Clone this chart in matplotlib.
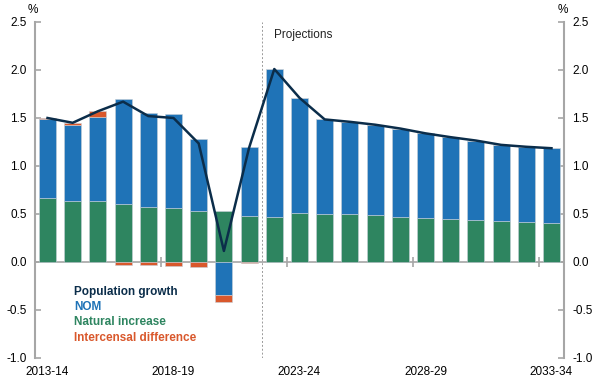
import numpy as np
import matplotlib
matplotlib.use("Agg")
import matplotlib.pyplot as plt

plt.rcParams['font.family'] = ['Liberation Sans', 'DejaVu Sans']

years = ["2013-14", "2014-15", "2015-16", "2016-17", "2017-18", "2018-19",
         "2019-20", "2020-21", "2021-22", "2022-23", "2023-24", "2024-25",
         "2025-26", "2026-27", "2027-28", "2028-29", "2029-30", "2030-31",
         "2031-32", "2032-33", "2033-34"]
natural = [0.67, 0.64, 0.64, 0.60, 0.57, 0.56, 0.53, 0.535, 0.48, 0.465, 0.515,
           0.505, 0.50, 0.485, 0.47, 0.46, 0.445, 0.44, 0.425, 0.415, 0.405]
nom = [0.82, 0.79, 0.87, 1.10, 0.98, 0.98, 0.755, -0.345, 0.72, 1.545, 1.195,
       0.98, 0.96, 0.945, 0.92, 0.88, 0.855, 0.825, 0.795, 0.785, 0.78]
intercensal = [0.01, 0.02, 0.06, -0.03, -0.03, -0.04, -0.05, -0.075, -0.01, 0, 0,
               0, 0, 0, 0, 0, 0, 0, 0, 0, 0]

C_NAVY = "#0b2d4a"
C_NOM = "#1f73b7"
C_NAT = "#2e8560"
C_INT = "#d9582c"
C_AX = "#a6a6a6"


def main():
    fig = plt.figure(figsize=(6.02, 3.83), dpi=100)
    ax = fig.add_axes([0.058, 0.0653, 0.879, 0.8773])

    x = np.arange(len(years))
    pos = np.zeros(len(years))
    neg = np.zeros(len(years))
    for vals, col in [(natural, C_NAT), (nom, C_NOM), (intercensal, C_INT)]:
        v = np.array(vals)
        bottom = np.where(v >= 0, pos, neg)
        ax.bar(x, v, bottom=bottom, width=0.67, color=col,
               edgecolor="#c8d0d8", linewidth=0.4, zorder=2)
        pos = pos + np.where(v >= 0, v, 0)
        neg = neg + np.where(v < 0, v, 0)

    total = np.array(natural) + np.array(nom) + np.array(intercensal)
    ax.plot(x, total, color=C_NAVY, lw=1.8, zorder=3)

    ax.set_xlim(-0.5, len(years) - 0.5)
    ax.set_ylim(-1.0, 2.5)
    ax.axhline(0, color=C_AX, lw=1.2, zorder=1)
    ax.plot(x[4:20:5] + 0.5, np.zeros(4), ls='none', marker='|', ms=7,
            mew=1.2, color=C_AX, zorder=1)
    ax.axvline(8.5, color="#9a9a9a", lw=0.7, ls=(0, (2, 2)), zorder=1)
    ax.text(9.0, 2.36, "Projections", fontsize=8.5, va='center', ha='left',
            color="#222222")

    ax.set_xticks(x[::5])
    ax.set_xticklabels([years[i] for i in range(0, len(years), 5)])
    ax.tick_params(axis='x', length=0, pad=6, labelsize=8.5)

    yt = np.arange(-1.0, 2.51, 0.5)
    ax.set_yticks(yt)
    ax.set_yticklabels([f"{t:.1f}" for t in yt])
    ax.tick_params(axis='y', direction='in', length=4, width=1.2, color=C_AX,
                   labelsize=8.5, left=True, right=True, labelleft=True,
                   labelright=True, pad=6)

    for s in ['top', 'bottom']:
        ax.spines[s].set_visible(False)
    for s in ['left', 'right']:
        ax.spines[s].set_color(C_AX)
        ax.spines[s].set_linewidth(1.5)

    fig.text(0.055, 0.975, "%", fontsize=8.5, ha='center', va='center')
    fig.text(0.935, 0.975, "%", fontsize=8.5, ha='center', va='center')

    labels = [("Population growth", C_NAVY), ("NOM", C_NOM),
              ("Natural increase", C_NAT), ("Intercensal difference", C_INT)]
    for i, (lab, col) in enumerate(labels):
        ax.text(1.07, -0.31 - i * 0.16, lab, color=col, fontsize=8.5,
                fontweight='bold', va='center', ha='left')

    fig.savefig("out.png", dpi=100)


if __name__ == "__main__":
    main()
